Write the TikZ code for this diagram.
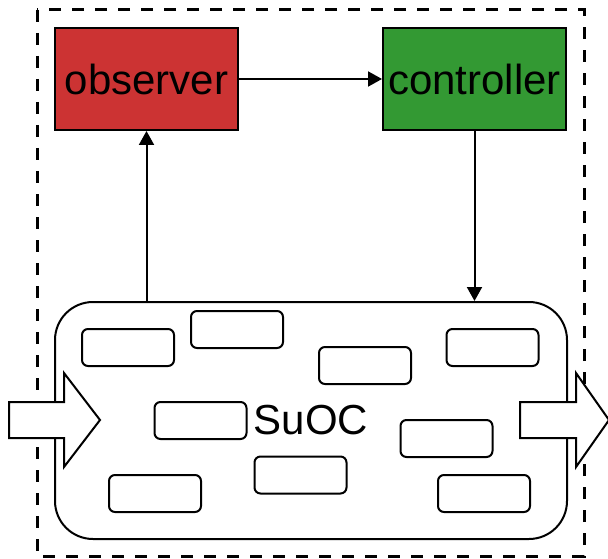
\documentclass[tikz,border=0pt]{standalone}
\usepackage{fontspec}
\setmainfont{Liberation Sans}
\usetikzlibrary{arrows.meta}
\definecolor{obsred}{HTML}{CC3333}
\definecolor{ctrlgreen}{HTML}{339933}
\begin{document}
\begin{tikzpicture}[x=1pt,y=-1pt,
  bigfont/.style={font=\fontsize{42}{50}\selectfont},
  box/.style={draw, line width=2pt, minimum width=183pt, minimum height=102pt, inner sep=0pt, bigfont},
  comp/.style={draw, line width=2pt, rounded corners=6pt, minimum width=92pt, minimum height=37pt, inner sep=0pt},
  conn/.style={line width=2pt, -{Triangle[length=14pt,width=15pt]}},
  bigarrow/.style={draw, fill=white, line width=2pt, miter limit=20}]
\useasboundingbox (0,0) rectangle (608,559);
\draw[line width=3pt, dash pattern=on 12pt off 11pt] (37,10) rectangle (584,556);
\node[box, fill=obsred] (obs) at (146.5,79) {observer};
\node[box, fill=ctrlgreen] (ctrl) at (474.5,79) {controller};
\node[draw, line width=2pt, rounded corners=38pt, minimum width=512pt, minimum height=237pt, inner sep=0pt, bigfont] (suoc) at (311,420.5) {SuOC};
\node[comp] (c1) at (128,347.5) {};
\node[comp] (c2) at (237,329.5) {};
\node[comp] (c3) at (200.5,420.5) {};
\node[comp] (c4) at (155,493.5) {};
\node[comp] (c5) at (300.5,475) {};
\node[comp] (c6) at (365,365.5) {};
\node[comp] (c7) at (492.5,347.5) {};
\node[comp] (c8) at (446.5,438.5) {};
\node[comp] (c9) at (484,493.5) {};
\draw[conn] (obs.east) -- (ctrl.west);
\draw[conn] (ctrl.south) -- (ctrl.south |- suoc.north);
\draw[conn] (obs.south |- suoc.north) -- (obs.south);
\draw[bigarrow] (9,402) -- (64,402) -- (64,373) -- (100,420) -- (64,467) -- (64,438) -- (9,438) -- cycle;
\draw[bigarrow] (520,402) -- (576,402) -- (576,373) -- (609,420) -- (576,467) -- (576,438) -- (520,438) -- cycle;
\end{tikzpicture}
\end{document}
